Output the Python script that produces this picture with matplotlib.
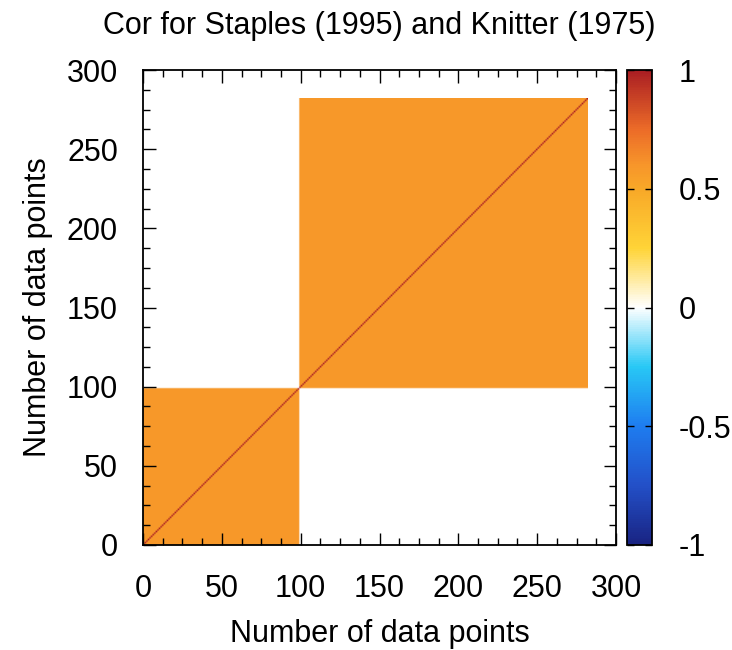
import numpy as np
import matplotlib
matplotlib.use("Agg")
import matplotlib.pyplot as plt
from matplotlib.colors import LinearSegmentedColormap
from matplotlib.ticker import MultipleLocator, FixedLocator

plt.rcParams['font.family'] = ['Liberation Sans', 'DejaVu Sans']
plt.rcParams['axes.unicode_minus'] = False

# data: two datasets, block correlation within each, none across
n_staples = 99
n_knitter = 183
rho_block = 0.58
title = "Cor for Staples (1995) and Knitter (1975)"
axis_label = "Number of data points"
cbar_ticks = [-1, -0.5, 0, 0.5, 1]
cbar_labels = ["-1", "-0.5", "0", "0.5", "1"]

n = n_staples + n_knitter
cor = np.zeros((n, n))
cor[:n_staples, :n_staples] = rho_block
cor[n_staples:, n_staples:] = rho_block
np.fill_diagonal(cor, 1.0)

# palette: blue - cyan - white - yellow - orange - red
stops = [
    (0.000, (25 / 255, 35 / 255, 130 / 255)),
    (0.125, (35 / 255, 80 / 255, 200 / 255)),
    (0.250, (30 / 255, 125 / 255, 240 / 255)),
    (0.375, (40 / 255, 200 / 255, 245 / 255)),
    (0.500, (1.0, 1.0, 1.0)),
    (0.625, (255 / 255, 212 / 255, 55 / 255)),
    (0.750, (248 / 255, 168 / 255, 40 / 255)),
    (0.800, (247 / 255, 150 / 255, 42 / 255)),
    (0.875, (236 / 255, 108 / 255, 40 / 255)),
    (1.000, (170 / 255, 30 / 255, 35 / 255)),
]
cmap = LinearSegmentedColormap.from_list("corpal", stops, N=257)

fs = 22

fig = plt.figure(figsize=(7.32, 6.5), dpi=100)
ax = fig.add_axes([143 / 732, 1 - 545 / 650, 473 / 732, 475 / 650])
cax = fig.add_axes([627 / 732, 1 - 545 / 650, 25 / 732, 475 / 650])

im = ax.imshow(cor, origin='lower', extent=[0, n, 0, n], cmap=cmap,
               vmin=-1, vmax=1, interpolation='bilinear', aspect='auto')
ax.set_xlim(0, 300)
ax.set_ylim(0, 300)

ax.xaxis.set_major_locator(MultipleLocator(50))
ax.yaxis.set_major_locator(MultipleLocator(50))
ax.xaxis.set_minor_locator(MultipleLocator(12.5))
ax.yaxis.set_minor_locator(MultipleLocator(12.5))
ax.tick_params(which='both', direction='in', top=True, right=True,
               width=1.0, labelsize=fs)
ax.tick_params(axis='x', pad=21)
ax.tick_params(axis='y', pad=18)
ax.tick_params(which='major', length=9)
ax.tick_params(which='minor', length=5)
for s in ax.spines.values():
    s.set_linewidth(1.3)

ax.set_xlabel(axis_label, fontsize=fs, labelpad=11)
ax.set_ylabel(axis_label, fontsize=fs, labelpad=10)
ax.set_title(title, fontsize=fs, pad=26)

cb = fig.colorbar(im, cax=cax)
cb.set_ticks(cbar_ticks)
cb.set_ticklabels(cbar_labels)
cb.ax.yaxis.set_minor_locator(FixedLocator([]))
cb.ax.tick_params(direction='in', left=True, right=True, length=5,
                  width=1.0, labelsize=fs, pad=19)
cb.outline.set_linewidth(1.3)

fig.savefig("out.png", dpi=100)
